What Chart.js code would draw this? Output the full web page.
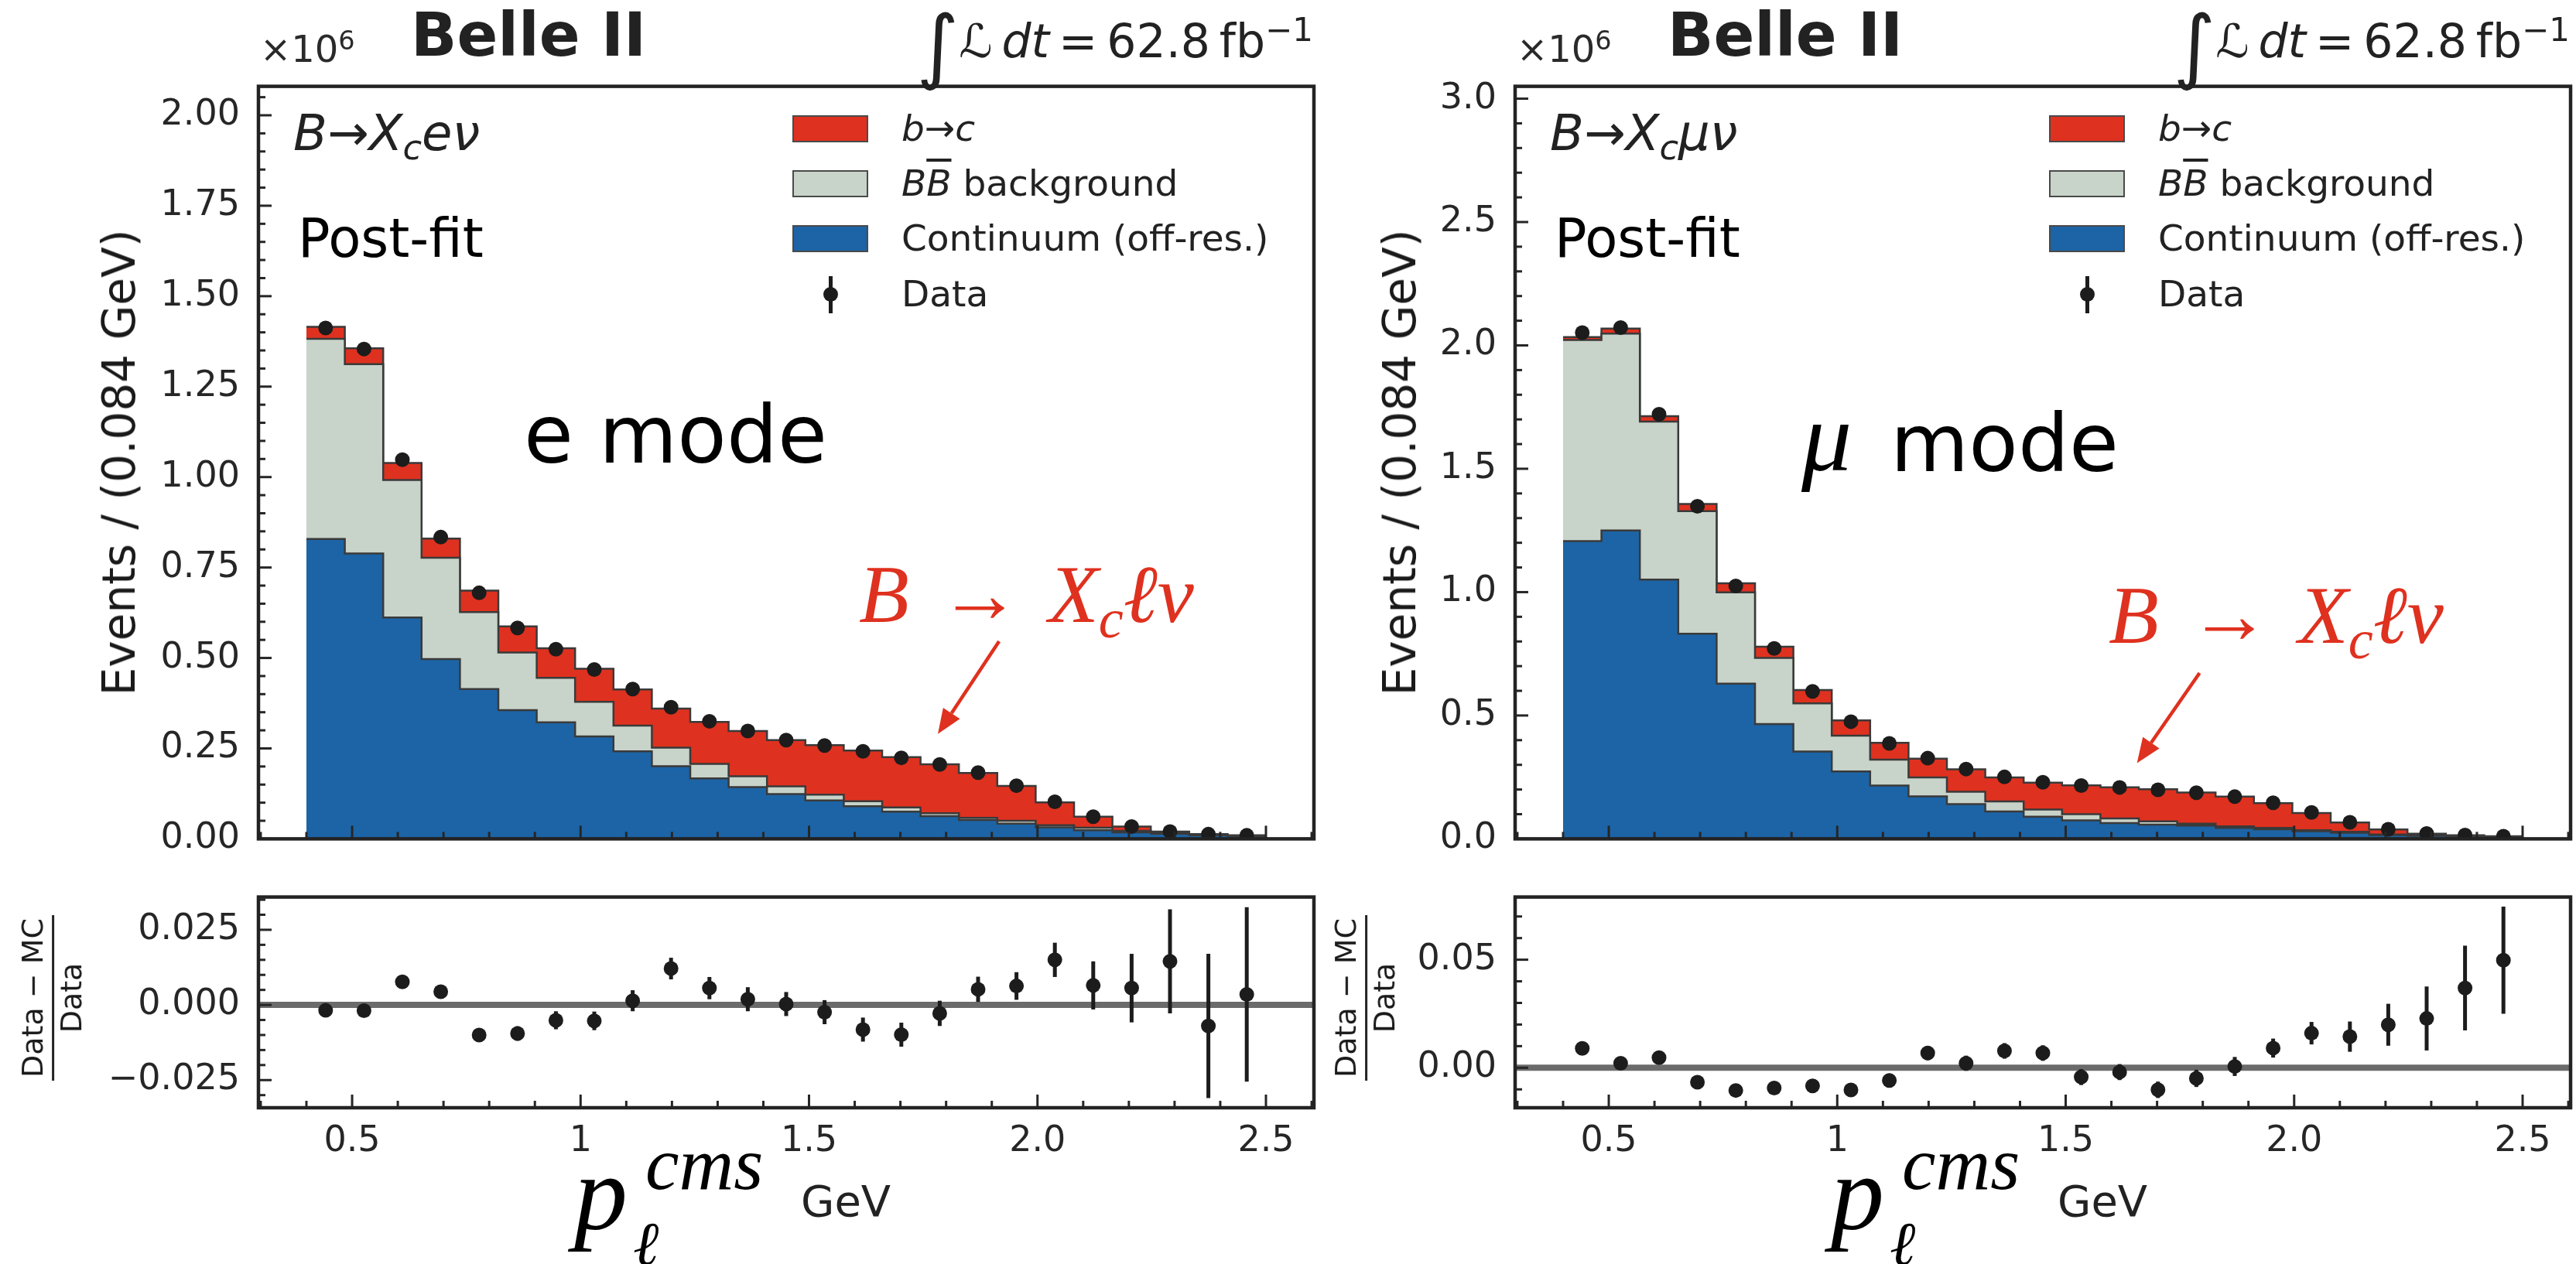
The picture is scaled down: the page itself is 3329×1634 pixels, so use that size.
<!DOCTYPE html>
<html>
<head>
<meta charset="utf-8">
<title>B → Xc ℓ ν post-fit lepton momentum</title>
<script src="https://cdn.jsdelivr.net/npm/chart.js@4.4.1/dist/chart.umd.min.js"></script>
<style>
  html, body { margin: 0; padding: 0; background: #fff; }
  #page { position: relative; width: 3329px; height: 1634px; overflow: hidden; background: #fff;
          font-family: "DejaVu Sans", sans-serif; color: #1a1a1a; }
  #page canvas { position: absolute; }
  .t { position: absolute; white-space: nowrap; line-height: 1; }
  .patch { position: absolute; width: 98px; height: 35px; box-sizing: border-box; border: 2px solid #4a4a4a; }
</style>
</head>
<body>
<div id="page"></div>
<script>
/* Post-fit p_l^cms spectra for B -> Xc l nu, electron and muon channels,
   stacked templates + data on top, (Data - MC)/Data pulls underneath. */

// 25 bins of 0.084 GeV between 0.4 and 2.5 GeV
const BIN_EDGES = [0.400, 0.484, 0.568, 0.652, 0.736, 0.820, 0.904, 0.988, 1.072, 1.156, 1.240, 1.324, 1.408,
  1.492, 1.576, 1.660, 1.744, 1.828, 1.912, 1.996, 2.080, 2.164, 2.248, 2.332, 2.416, 2.500];
const BIN_CENTERS = [0.442, 0.526, 0.610, 0.694, 0.778, 0.862, 0.946, 1.030, 1.114, 1.198, 1.282, 1.366,
  1.450, 1.534, 1.618, 1.702, 1.786, 1.870, 1.954, 2.038, 2.122, 2.206, 2.290, 2.374, 2.458];

// electron channel, events per bin in units of 1e6
const CONT_E  = [0.829, 0.789, 0.612, 0.497, 0.414, 0.356, 0.322, 0.283, 0.242, 0.201, 0.167, 0.143, 0.124,
  0.106, 0.090, 0.075, 0.063, 0.052, 0.042, 0.032, 0.024, 0.018, 0.014, 0.010, 0.007];
const BBBAR_E = [0.553, 0.523, 0.380, 0.280, 0.213, 0.159, 0.123, 0.096, 0.071, 0.051, 0.040, 0.030, 0.021,
  0.016, 0.014, 0.012, 0.008, 0.006, 0.008, 0.006, 0.007, 0.004, 0.002, 0.002, 0.001];
const BTOC_E  = [0.033, 0.044, 0.047, 0.053, 0.059, 0.072, 0.082, 0.091, 0.100, 0.108, 0.116, 0.125, 0.128,
  0.137, 0.140, 0.139, 0.135, 0.124, 0.096, 0.063, 0.030, 0.012, 0.004, 0.001, 0.0017];
const DATA_E  = [1.412, 1.354, 1.048, 0.834, 0.680, 0.583, 0.524, 0.468, 0.414, 0.364, 0.325, 0.298, 0.273,
  0.258, 0.242, 0.224, 0.2055, 0.183, 0.147, 0.1025, 0.0614, 0.0342, 0.0203, 0.0129, 0.0097];
const PULL_E  = [-0.0018, -0.0019, 0.0077, 0.0044, -0.0100, -0.0095, -0.0051, -0.0053, 0.0014, 0.0121, 0.0056,
  0.0019, 0.0003, -0.0024, -0.0082, -0.0099, -0.0028, 0.0052, 0.0063, 0.0150, 0.0065, 0.0056, 0.0145, -0.0070, 0.0035];
const PULL_ERR_E = [0.0015, 0.0016, 0.0018, 0.0020, 0.0022, 0.0024, 0.0030, 0.0031, 0.0035, 0.0036, 0.0037,
  0.0040, 0.0040, 0.0040, 0.0040, 0.0040, 0.0042, 0.0042, 0.0046, 0.0057, 0.0080, 0.0114, 0.0173, 0.0240, 0.0290];

// muon channel
const CONT_MU  = [1.207, 1.250, 1.051, 0.831, 0.629, 0.465, 0.354, 0.273, 0.216, 0.172, 0.141, 0.111, 0.090,
  0.075, 0.064, 0.058, 0.054, 0.044, 0.039, 0.031, 0.0245, 0.015, 0.012, 0.008, 0.006];
const BBBAR_MU = [0.815, 0.798, 0.640, 0.497, 0.370, 0.268, 0.195, 0.145, 0.105, 0.077, 0.050, 0.041, 0.029,
  0.025, 0.019, 0.013, 0.008, 0.007, 0.005, 0.004, 0.004, 0.003, 0.002, 0.002, 0.002];
const BTOC_MU  = [0.012, 0.020, 0.022, 0.029, 0.037, 0.046, 0.054, 0.062, 0.068, 0.076, 0.091, 0.097, 0.109,
  0.117, 0.126, 0.130, 0.126, 0.120, 0.1007, 0.070, 0.0375, 0.020, 0.0069, 0.0047, 0.0025];
const DATA_MU  = [2.052, 2.072, 1.721, 1.348, 1.025, 0.772, 0.598, 0.475, 0.387, 0.327, 0.283, 0.251, 0.2295,
  0.216, 0.2085, 0.199, 0.187, 0.171, 0.146, 0.107, 0.067, 0.039, 0.0214, 0.0153, 0.011];
const PULL_MU  = [0.0090, 0.0021, 0.0047, -0.0067, -0.0105, -0.0094, -0.0084, -0.0103, -0.0059, 0.0068, 0.0021,
  0.0078, 0.0068, -0.0043, -0.0020, -0.0102, -0.0049, 0.0006, 0.0091, 0.0160, 0.0144, 0.0199, 0.0228, 0.0369, 0.0498];
const PULL_ERR_MU = [0.0020, 0.0022, 0.0024, 0.0026, 0.0028, 0.0030, 0.0030, 0.0031, 0.0032, 0.0033, 0.0035,
  0.0036, 0.0036, 0.0037, 0.0037, 0.0038, 0.0040, 0.0044, 0.0044, 0.0052, 0.0070, 0.0097, 0.0148, 0.0196, 0.0248];

// axes
const X_TICKS = [0.5, 1, 1.5, 2, 2.5];
const X_TICK_LABELS = ["0.5", "1", "1.5", "2.0", "2.5"];
const Y_TICKS_E = [0, 0.25, 0.5, 0.75, 1, 1.25, 1.5, 1.75, 2];
const Y_TICK_LABELS_E = ["0.00", "0.25", "0.50", "0.75", "1.00", "1.25", "1.50", "1.75", "2.00"];
const Y_TICKS_MU = [0, 0.5, 1, 1.5, 2, 2.5, 3];
const Y_TICK_LABELS_MU = ["0.0", "0.5", "1.0", "1.5", "2.0", "2.5", "3.0"];
const PULL_TICKS_E = [-0.025, 0, 0.025];
const PULL_TICK_LABELS_E = ["\u22120.025", "0.000", "0.025"];
const PULL_TICKS_MU = [0, 0.05];
const PULL_TICK_LABELS_MU = ["0.00", "0.05"];

const X_MIN = 0.295, X_MAX = 2.605;

const COL = { btoc: "#df311f", bbbar: "#c8d3c9", cont: "#1c64a6", data: "#1c1c1c", edge: "#3a3a3a" };
const TICK_COLOR = "#262626";
const PAD = 40;
const PLOT_W = 1364, MAIN_TOP = 100, MAIN_H = 996, PULL_TOP = 1148, PULL_H = 284;

const page = document.getElementById("page");

function mountCanvas(frameLeft, frameTop, w, h, yw, xh) {
  const c = document.createElement("canvas");
  const cw = yw + w + PAD, ch = PAD + h + xh + PAD;
  c.width = cw; c.height = ch;
  c.style.left = (frameLeft - yw) + "px";
  c.style.top = (frameTop - PAD) + "px";
  c.style.width = cw + "px"; c.style.height = ch + "px";
  page.appendChild(c);
  return c;
}

// one point per bin edge, last bin repeated so the final step closes at 2.5 GeV
const stepData = vals => BIN_EDGES.map((x, i) => ({ x, y: vals[Math.min(i, vals.length - 1)] }));
const stack = (...parts) => parts[0].map((_, i) => parts.reduce((s, p) => s + p[i], 0));

// spines, inward ticks, zero line, error bars and the annotation arrow
function framePlugin(o) {
  return {
    id: "frame",
    beforeDatasetsDraw(chart) {
      if (!o.zero) return;
      const { ctx, chartArea: a, scales: { y } } = chart;
      const py = y.getPixelForValue(0);
      ctx.save();
      ctx.strokeStyle = "#6b6b6b"; ctx.lineWidth = 8;
      ctx.beginPath(); ctx.moveTo(a.left, py); ctx.lineTo(a.right, py); ctx.stroke();
      ctx.restore();
    },
    afterDatasetsDraw(chart) {
      const { ctx, chartArea: a, scales: { x, y } } = chart;
      ctx.save();

      if (o.pulls) {
        ctx.strokeStyle = COL.data; ctx.lineWidth = 5;
        o.pulls.forEach((v, i) => {
          const px = x.getPixelForValue(BIN_CENTERS[i]);
          ctx.beginPath();
          ctx.moveTo(px, y.getPixelForValue(v - o.errs[i]));
          ctx.lineTo(px, y.getPixelForValue(v + o.errs[i]));
          ctx.stroke();
        });
      }

      if (o.arrow) {
        const p0 = { x: x.getPixelForValue(o.arrow.from[0]), y: y.getPixelForValue(o.arrow.from[1]) };
        const p1 = { x: x.getPixelForValue(o.arrow.to[0]), y: y.getPixelForValue(o.arrow.to[1]) };
        const ang = Math.atan2(p1.y - p0.y, p1.x - p0.x);
        const head = 32, half = 13;
        const bx = p1.x - head * Math.cos(ang), by = p1.y - head * Math.sin(ang);
        ctx.strokeStyle = COL.btoc; ctx.fillStyle = COL.btoc; ctx.lineWidth = 4.5;
        ctx.beginPath(); ctx.moveTo(p0.x, p0.y); ctx.lineTo(bx, by); ctx.stroke();
        ctx.beginPath();
        ctx.moveTo(p1.x, p1.y);
        ctx.lineTo(bx + half * Math.sin(ang), by - half * Math.cos(ang));
        ctx.lineTo(bx - half * Math.sin(ang), by + half * Math.cos(ang));
        ctx.closePath(); ctx.fill();
      }

      ctx.strokeStyle = TICK_COLOR; ctx.lineWidth = 3;
      const vline = (v, len) => {
        const px = x.getPixelForValue(v);
        ctx.beginPath(); ctx.moveTo(px, a.bottom); ctx.lineTo(px, a.bottom - len); ctx.stroke();
      };
      const hline = (v, len) => {
        const py = y.getPixelForValue(v);
        ctx.beginPath(); ctx.moveTo(a.left, py); ctx.lineTo(a.left + len, py); ctx.stroke();
      };
      for (let k = 3; k <= 26; k++) {
        const v = k / 10;
        if (X_TICKS.some(t => Math.abs(t - v) < 1e-9)) vline(v, 17); else vline(v, 9);
      }
      const kMin = Math.ceil(y.min / o.minorStep - 1e-9), kMax = Math.floor(y.max / o.minorStep + 1e-9);
      for (let k = kMin; k <= kMax; k++) {
        const v = k * o.minorStep;
        if (o.yTicks.some(t => Math.abs(t - v) < 1e-9)) hline(v, 17); else hline(v, 9);
      }

      ctx.strokeStyle = "#232323"; ctx.lineWidth = 4.5;
      ctx.strokeRect(a.left, a.top, a.right - a.left, a.bottom - a.top);
      ctx.restore();
    }
  };
}

function axisOptions(o) {
  const font = { family: "DejaVu Sans", size: 46 };
  return {
    responsive: false, animation: false, devicePixelRatio: 1,
    layout: { padding: { left: 0, right: PAD, top: PAD, bottom: PAD } },
    plugins: { legend: { display: false }, tooltip: { enabled: false } },
    scales: {
      x: {
        type: "linear", min: X_MIN, max: X_MAX,
        afterFit: s => { s.height = o.xh; },
        afterBuildTicks: s => { s.ticks = X_TICKS.map(v => ({ value: v })); },
        ticks: { display: o.xLabels, padding: 16, color: TICK_COLOR, font, maxRotation: 0, autoSkip: false,
                 callback: (v, i) => X_TICK_LABELS[i] },
        grid: { display: false, drawTicks: false }, border: { display: false }
      },
      y: {
        type: "linear", min: o.yMin, max: o.yMax,
        afterFit: s => { s.width = o.yw; },
        afterBuildTicks: s => { s.ticks = o.yTicks.map(v => ({ value: v })); },
        ticks: { padding: 24, color: TICK_COLOR, font, autoSkip: false, callback: (v, i) => o.yLabels[i] },
        grid: { display: false, drawTicks: false }, border: { display: false }
      }
    }
  };
}

function mainPanel(p) {
  const canvas = mountCanvas(p.left, MAIN_TOP, PLOT_W, MAIN_H, 340, 0);
  // Chart.js "before" = horizontal run at the previous value, then the vertical step
  const hist = (vals, color) => ({
    data: stepData(vals), stepped: "before", fill: "origin", backgroundColor: color,
    borderColor: COL.edge, borderWidth: 2.5, pointRadius: 0
  });
  new Chart(canvas, {
    type: "line",
    data: {
      datasets: [
        { data: BIN_CENTERS.map((x, i) => ({ x, y: p.data[i] })), showLine: false,
          pointRadius: 9.5, pointBackgroundColor: COL.data, pointBorderWidth: 0 },
        hist(p.cont, COL.cont),
        hist(stack(p.cont, p.bbbar), COL.bbbar),
        hist(stack(p.cont, p.bbbar, p.btoc), COL.btoc)
      ]
    },
    options: axisOptions({ xh: 0, xLabels: false, yMin: 0, yMax: p.yMax, yw: 340,
                           yTicks: p.yTicks, yLabels: p.yLabels }),
    plugins: [framePlugin({ yTicks: p.yTicks, minorStep: p.minorStep, arrow: p.arrow })]
  });
}

function pullPanel(p) {
  const canvas = mountCanvas(p.left, PULL_TOP, PLOT_W, PULL_H, 340, 100);
  new Chart(canvas, {
    type: "line",
    data: {
      datasets: [{ data: BIN_CENTERS.map((x, i) => ({ x, y: p.pulls[i] })), showLine: false,
                   pointRadius: 9.5, pointBackgroundColor: COL.data, pointBorderWidth: 0 }]
    },
    options: axisOptions({ xh: 100, xLabels: true, yMin: p.yMin, yMax: p.yMax, yw: 340,
                           yTicks: p.yTicks, yLabels: p.yLabels }),
    plugins: [framePlugin({ yTicks: p.yTicks, minorStep: p.minorStep, zero: true, pulls: p.pulls, errs: p.errs })]
  });
}

mainPanel({ left: 334, data: DATA_E, cont: CONT_E, bbbar: BBBAR_E, btoc: BTOC_E, yMax: 2.08,
            yTicks: Y_TICKS_E, yLabels: Y_TICK_LABELS_E, minorStep: 0.05,
            arrow: { from: [1.916, 0.546], to: [1.782, 0.290] } });
pullPanel({ left: 334, pulls: PULL_E, errs: PULL_ERR_E, yMin: -0.0342, yMax: 0.0359,
            yTicks: PULL_TICKS_E, yLabels: PULL_TICK_LABELS_E, minorStep: 0.005 });
mainPanel({ left: 1958, data: DATA_MU, cont: CONT_MU, bbbar: BBBAR_MU, btoc: BTOC_MU, yMax: 3.05,
            yTicks: Y_TICKS_MU, yLabels: Y_TICK_LABELS_MU, minorStep: 0.1,
            arrow: { from: [1.793, 0.672], to: [1.656, 0.307] } });
pullPanel({ left: 1958, pulls: PULL_MU, errs: PULL_ERR_MU, yMin: -0.0185, yMax: 0.079,
            yTicks: PULL_TICKS_MU, yLabels: PULL_TICK_LABELS_MU, minorStep: 0.01 });

// ---- text overlays ----
function txt(html, x, base, size, style) {
  const d = document.createElement("div");
  d.className = "t";
  d.innerHTML = html;
  d.style.left = x + "px";
  d.style.top = (base - 0.846 * size) + "px";
  d.style.fontSize = size + "px";
  if (style) Object.assign(d.style, style);
  page.appendChild(d);
  return d;
}
function rotated(html, cx, cy, size) {
  const d = document.createElement("div");
  d.className = "t";
  d.innerHTML = html;
  d.style.fontSize = size + "px";
  d.style.left = cx + "px"; d.style.top = cy + "px";
  d.style.transform = "translate(-50%, -50%) rotate(-90deg)";
  page.appendChild(d);
}
const sub = (s, k) => `<span style="font-size:${k || 0.7}em;position:relative;top:0.28em">${s}</span>`;
const sup = (s, k) => `<span style="font-size:${k || 0.7}em;position:relative;top:-0.5em">${s}</span>`;

const LEGEND = [
  { color: COL.btoc, label: '<i>b</i>→<i>c</i>' },
  { color: COL.bbbar, label: '<i>B</i><i style="text-decoration:overline">B</i> background' },
  { color: COL.cont, label: "Continuum (off-res.)" }
];
const LEGEND_ROWS = [166, 237, 308, 380];

[
  { dx: 0, proc: '<i>B</i>→<i>X</i>' + sub('<i>c</i>') + '<i>eν</i>', ylab: 154, plab: 68, red: [1110, 806] },
  { dx: 1624, proc: '<i>B</i>→<i>X</i>' + sub('<i>c</i>') + '<i>μν</i>', ylab: 1809, plab: 1765, red: [2725, 833] }
].forEach(P => {
  const dx = P.dx;
  txt("×10" + sup("6"), 336 + dx, 80, 48, { color: "#2a2a2a" });
  txt("Belle II", 531 + dx, 72, 78, { fontWeight: "bold", color: "#222" });
  txt('<span style="font-size:1.75em;line-height:0;position:relative;top:0.2em">∫</span><i>ℒ</i>\u2009<i>dt</i>\u2009=\u200962.8\u2009fb' +
      sup("\u22121"), 1697 + dx, 74, 60, { transform: "translateX(-100%)", color: "#222" });
  txt(P.proc, 379 + dx, 194, 64, { color: "#222" });
  txt("Post-fit", 385 + dx, 332, 69, { color: "#000" });

  LEGEND.forEach((L, i) => {
    const pch = document.createElement("div");
    pch.className = "patch";
    pch.style.left = (1024 + dx) + "px";
    pch.style.top = (LEGEND_ROWS[i] - 17.5) + "px";
    pch.style.background = L.color;
    page.appendChild(pch);
    txt(L.label, 1165 + dx, LEGEND_ROWS[i] + 16, 47, { color: "#222" });
  });
  const bar = document.createElement("div");
  Object.assign(bar.style, { position: "absolute", left: (1071 + dx) + "px", top: "357px", width: "5px", height: "48px", background: COL.data });
  page.appendChild(bar);
  const dot = document.createElement("div");
  Object.assign(dot.style, { position: "absolute", left: (1064 + dx) + "px", top: "371px", width: "19px", height: "19px",
                             borderRadius: "50%", background: COL.data });
  page.appendChild(dot);
  txt("Data", 1165 + dx, LEGEND_ROWS[3] + 16, 47, { color: "#222" });

  txt('<i>B</i><span style="font-style:normal;margin:0 0.34em 0 0.36em">→</span><i>X</i>' +
      sub("<i>c</i>", 0.68) + "<i>ℓν</i>", P.red[0], P.red[1], 106, { color: COL.btoc, fontFamily: '"Liberation Serif", serif' });

  rotated("Events / (0.084 GeV)", P.ylab, 598, 58);
  rotated('<div style="display:flex;flex-direction:column;align-items:center;line-height:1.05">' +
          '<div style="padding:0 4px 4px">Data − MC</div>' +
          '<div style="border-top:3px solid #222;align-self:stretch;text-align:center;padding-top:3px">Data</div></div>',
          P.plab, 1290, 38);

  txt("<i>p</i>", 742 + dx, 1591, 138, { fontFamily: '"Liberation Serif", serif', color: "#000" });
  txt("<i>cms</i>", 834 + dx, 1538, 98, { fontFamily: '"Liberation Serif", serif', color: "#000" });
  txt("<i>ℓ</i>", 818 + dx, 1636, 80, { fontFamily: '"Liberation Serif", serif', color: "#000" });
  txt("GeV", 1035 + dx, 1572, 56, { color: "#222" });
});

txt("e mode", 677, 598, 104, { color: "#000" });
txt("<i>μ</i>", 2328, 609, 130, { fontFamily: '"Liberation Serif", serif', color: "#000" });
txt("mode", 2443, 609, 104, { color: "#000" });
</script>
</body>
</html>
